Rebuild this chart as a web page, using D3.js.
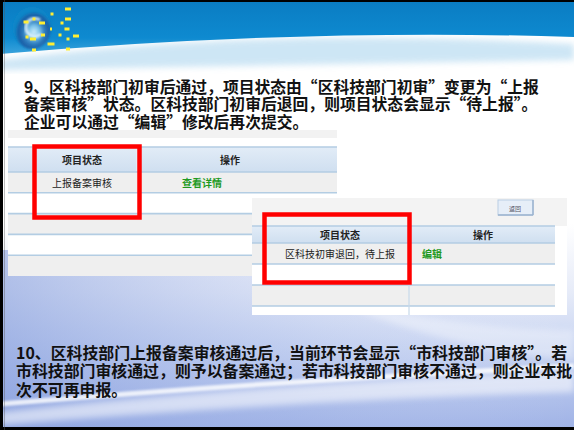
<!DOCTYPE html>
<html><head><meta charset="utf-8">
<script src="https://cdn.jsdelivr.net/npm/d3@7/dist/d3.min.js"></script>
<style>html,body{margin:0;padding:0;background:#fff;overflow:hidden}svg{display:block}</style>
</head><body>
<svg id="c" width="574" height="430"></svg>
<script>
// ---- content ----
const para1Lines = [
  "9、区科技部门初审后通过，项目状态由“区科技部门初审”变更为“上报",
  "备案审核”状态。区科技部门初审后退回，则项目状态会显示“待上报”。",
  "企业可以通过“编辑”修改后再次提交。"
];
const para2Lines = [
  "10、区科技部门上报备案审核通过后，当前环节会显示“市科技部门审核”。若",
  "市科技部门审核通过，则予以备案通过；若市科技部门审核不通过，则企业本批",
  "次不可再申报。"
];
const table1Header = ["项目状态", "操作"];
const table1Rows = [["上报备案审核", "查看详情"], ["", ""], ["", ""], ["", ""], ["", ""]];
const table2Header = ["项目状态", "操作"];
const table2Rows = [["区科技初审退回，待上报", "编辑"], ["", ""], ["", ""]];
const buttonLabel = ["返回"];
const logoDots = [[68,9,6],[52,14,3],[68,19,6],[26,22,5],[34,19,3],[42,23,6],[62,23,3],[67,29,5],[51,29,2],[43,35,4],[27,37,3],[33,39,6],[60,35,3],[76,36,6],[68,39,3],[51,44,7],[34,50,4],[68,49,4]];

const W = 574, H = 430;
const svg = d3.select("#c");
const defs = svg.append("defs");
const FONT = "'Noto Sans CJK SC','Noto Sans',sans-serif";

// gradients
const bg = defs.append("linearGradient").attr("id","bg").attr("x1",0).attr("y1",0).attr("x2",0).attr("y2",1);
[[0,"#ffffff"],[0.52,"#ffffff"],[0.68,"#e6ebf8"],[0.8,"#c9d5f2"],[1,"#9fb2e6"]].forEach(s=>bg.append("stop").attr("offset",s[0]).attr("stop-color",s[1]));
const bgH = defs.append("linearGradient").attr("id","bgH").attr("x1",0).attr("y1",0).attr("x2",1).attr("y2",0);
[[0,"#7e97da",0.55],[0.5,"#9fb2e6",0.2],[1,"#ffffff",0.0]].forEach(s=>bgH.append("stop").attr("offset",s[0]).attr("stop-color",s[1]).attr("stop-opacity",s[2]));
const hdr = defs.append("linearGradient").attr("id","hdr").attr("x1",0).attr("y1",0).attr("x2",0).attr("y2",1);
[[0,"#0a7cc2"],[0.7,"#0e8ad0"],[1,"#3aa3dc"]].forEach(s=>hdr.append("stop").attr("offset",s[0]).attr("stop-color",s[1]));
const thg = defs.append("linearGradient").attr("id","thg").attr("x1",0).attr("y1",0).attr("x2",0).attr("y2",1);
[[0,"#e2ecf7"],[1,"#cfdff0"]].forEach(s=>thg.append("stop").attr("offset",s[0]).attr("stop-color",s[1]));
const logoG = defs.append("radialGradient").attr("id","logoG").attr("cx",0.55).attr("cy",0.6).attr("r",0.5);
[[0,"#cfeefc"],[0.3,"#7cc3ea"],[0.55,"#2f7fc0"],[0.8,"#1a5ea6"],[1,"#0e86c8"]].forEach(s=>logoG.append("stop").attr("offset",s[0]).attr("stop-color",s[1]));
defs.append("filter").attr("id","blur").append("feGaussianBlur").attr("stdDeviation",3);
defs.append("filter").attr("id","blur1").append("feGaussianBlur").attr("stdDeviation",1.2);

// background
svg.append("rect").attr("width",W).attr("height",H).attr("fill","url(#bg)");
svg.append("rect").attr("y",250).attr("width",W).attr("height",H-250).attr("fill","url(#bgH)");
// swoosh
svg.append("path").attr("d","M0,412 Q250,385 574,372 L574,392 Q300,400 0,425 Z").attr("fill","#ffffff").attr("opacity",0.55).attr("filter","url(#blur)");
svg.append("path").attr("d","M0,404 Q260,382 574,366").attr("fill","none").attr("stroke","#ffffff").attr("stroke-width",5).attr("opacity",0.8).attr("filter","url(#blur1)");
svg.append("path").attr("d","M330,300 Q470,330 574,330 L574,360 Q450,350 330,300 Z").attr("fill","#ffffff").attr("opacity",0.35).attr("filter","url(#blur)");

// header band
svg.append("path").attr("d","M0,60 Q260,26 574,44 L574,60 L0,70 Z").attr("fill","#b9dcf1").attr("opacity",0.7).attr("filter","url(#blur)");
svg.append("path").attr("d","M0,0 L574,0 L574,37 Q300,28 0,54 Z").attr("fill","url(#hdr)");

// logo
const logo = svg.append("g");
logo.append("ellipse").attr("cx",32).attr("cy",28).attr("rx",19).attr("ry",21).attr("fill","url(#logoG)").attr("filter","url(#blur1)");
logo.append("path").attr("d","M40,20 A9,9 0 1 0 41,34").attr("fill","none").attr("stroke","#e8f7ff").attr("stroke-width",3).attr("opacity",0.85).attr("filter","url(#blur1)");
logo.selectAll("rect.dot").data(logoDots).join("rect").attr("class","dot")
  .attr("x",d=>d[0]-d[2]/2).attr("y",d=>d[1]-1.5).attr("width",d=>d[2]).attr("height",3).attr("fill","#ffee33");

// paragraph 1
const y1 = d3.scaleLinear().domain([0,1]).range([86,103.5]);
svg.append("g").selectAll("text").data(para1Lines).join("text")
  .attr("x",24).attr("y",(d,i)=>y1(i)).attr("dominant-baseline","central")
  .attr("font-family",FONT).attr("font-weight",700).attr("font-size",15.8).attr("fill","#111")
  .text(d=>d);

// table drawing helper
function drawTable(cfg){
  const g = svg.append("g");
  g.append("rect").attr("x",cfg.x0).attr("y",cfg.top).attr("width",cfg.outerW).attr("height",cfg.bottom-cfg.top).attr("fill","#ffffff");
  if (cfg.strip) g.append("rect").attr("x",cfg.x0).attr("y",cfg.top).attr("width",cfg.outerW).attr("height",cfg.strip).attr("fill",cfg.stripColor);
  const rows = cfg.rows;
  const y = d3.scaleLinear().domain([0,1]).range([cfg.headTop, cfg.headTop + cfg.headH]);
  const rowY = d3.scaleLinear().domain([0,rows.length]).range([cfg.headTop+cfg.headH, cfg.headTop+cfg.headH+cfg.rowH*rows.length]);
  const x = d3.scaleLinear().domain([0,1]).range([cfg.x0, cfg.x0+cfg.w]);
  g.append("rect").attr("x",x(0)).attr("y",y(0)).attr("width",cfg.w).attr("height",cfg.headH).attr("fill","url(#thg)");
  g.selectAll("rect.row").data(rows).join("rect").attr("class","row")
    .attr("x",x(0)).attr("y",(d,i)=>rowY(i)).attr("width",cfg.w).attr("height",cfg.rowH)
    .attr("fill",(d,i)=>i%2===0?"#efefef":"#ffffff");
  const lines = [y(0), y(1)].concat(d3.range(1,rows.length+(cfg.lastLine?1:0)).map(i=>rowY(i)));
  g.selectAll("line.h").data(lines).join("line").attr("class","h")
    .attr("x1",x(0)).attr("x2",x(1)).attr("y1",d=>d).attr("y2",d=>d)
    .attr("stroke","#b3cde3").attr("stroke-width",1.6);
  g.append("line").attr("x1",cfg.colX).attr("x2",cfg.colX).attr("y1",y(0)+1).attr("y2",y(1)-1).attr("stroke","#e9f1f9").attr("stroke-width",1.2);
  if (cfg.divRows) g.append("line").attr("x1",cfg.colX).attr("x2",cfg.colX).attr("y1",rowY(1)).attr("y2",cfg.bottom).attr("stroke","#c7d9ea").attr("stroke-width",1.2);
  g.selectAll("text.th").data(cfg.header).join("text").attr("class","th")
    .attr("x",(d,i)=>cfg.textX[i]).attr("y",y(0)+cfg.headH/2).attr("text-anchor","middle").attr("dominant-baseline","central")
    .attr("font-family",FONT).attr("font-weight",700).attr("font-size",10).attr("fill","#222").text(d=>d);
  const r0 = rows[0];
  g.append("text").attr("x",cfg.textX[0]).attr("y",rowY(0)+cfg.rowH/2).attr("text-anchor","middle").attr("dominant-baseline","central")
    .attr("font-family",FONT).attr("font-size",10).attr("fill","#222").text(r0[0]);
  g.append("text").attr("x",cfg.linkX).attr("y",rowY(0)+cfg.rowH/2).attr("dominant-baseline","central")
    .attr("font-family",FONT).attr("font-weight",700).attr("font-size",10).attr("fill","#1f9a1f").text(r0[1]);
  return g;
}

// table 1
drawTable({x0:8, outerW:329, w:329, top:130, bottom:276, strip:8, stripColor:"#f2f2f2",
  header:table1Header, headTop:147, headH:25, rowH:20.8, rows:table1Rows, colX:137, textX:[82,230], linkX:182, lastLine:false});

// table 2
const t2 = drawTable({x0:252, outerW:315, w:303, top:198, bottom:315, strip:28, stripColor:"#f3f3f3",
  header:table2Header, headTop:226, headH:17, rowH:21, rows:table2Rows, colX:409, textX:[340,483], linkX:422, lastLine:true, divRows:true});
// button
t2.selectAll("g.btn").data(buttonLabel).join("g").attr("class","btn").each(function(d){
  const b = d3.select(this);
  b.append("rect").attr("x",498).attr("y",200).attr("width",35).attr("height",15).attr("fill","#e6eef8").attr("stroke","#b9cde3").attr("stroke-width",1);
  b.append("line").attr("x1",533).attr("x2",533).attr("y1",200).attr("y2",215).attr("stroke","#9bb3cf").attr("stroke-width",1.5);
  b.append("line").attr("x1",498).attr("x2",533).attr("y1",215).attr("y2",215).attr("stroke","#9bb3cf").attr("stroke-width",1.5);
  b.append("text").attr("x",515).attr("y",208).attr("text-anchor","middle").attr("dominant-baseline","central")
    .attr("font-family",FONT).attr("font-size",6).attr("fill","#556").text(d);
});

// red highlight boxes
const boxes = [[34.5,146.5,105,71],[264.5,214.5,145,68]];
svg.selectAll("rect.red").data(boxes).join("rect").attr("class","red")
  .attr("x",d=>d[0]).attr("y",d=>d[1]).attr("width",d=>d[2]).attr("height",d=>d[3])
  .attr("fill","none").attr("stroke","#ff0000").attr("stroke-width",4.5);

// paragraph 2
const y2 = d3.scaleLinear().domain([0,1]).range([352,370.5]);
svg.append("g").selectAll("text").data(para2Lines).join("text")
  .attr("x",16).attr("y",(d,i)=>y2(i)).attr("dominant-baseline","central")
  .attr("font-family",FONT).attr("font-weight",700).attr("font-size",15.9).attr("fill","#111")
  .text(d=>d);

// slide frame
svg.append("rect").attr("x",0).attr("y",0).attr("width",3).attr("height",H).attr("fill","#000");
svg.append("rect").attr("x",0).attr("y",0).attr("width",W).attr("height",2).attr("fill","#000");
svg.append("rect").attr("x",0).attr("y",H-3).attr("width",W).attr("height",3).attr("fill","#000");
svg.append("rect").attr("x",4).attr("y",0).attr("width",1).attr("height",H).attr("fill","#555").attr("opacity",0.4);
</script>
</body></html>
